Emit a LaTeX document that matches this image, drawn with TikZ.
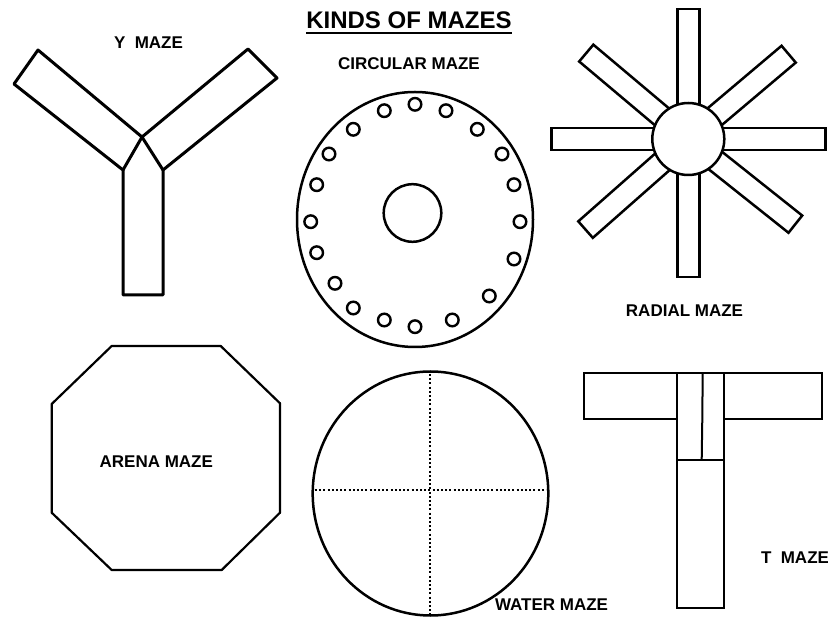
\documentclass[tikz,border=0pt]{standalone}
\usepackage{fontspec}
\setmainfont{Liberation Sans}
\usetikzlibrary{calc}
\tikzset{
  lbl/.style={inner sep=0pt, anchor=base, font=\fontsize{17}{17}\selectfont\bfseries},
  ttl/.style={inner sep=0pt, anchor=base, font=\fontsize{24}{24}\selectfont\bfseries},
  ymaze/.style={line width=3pt, line join=round, line cap=round},
  thick2/.style={line width=2.5pt},
  thin15/.style={line width=2pt},
  arm/.style={line width=2.5pt},
  hole/.style={line width=2.4pt},
  dots/.style={line width=2.6pt, dash pattern=on 2pt off 2.2pt}
}
\begin{document}
\begin{tikzpicture}[x=1pt,y=-1pt]
\useasboundingbox (0,0) rectangle (828,617);
\fill[white] (0,0) rectangle (828,617);

% Title
\node[ttl] (title) at (409,29) {KINDS OF MAZES};
\draw[line width=1.8pt] ([yshift=-4pt]title.base west) -- ([yshift=-4pt]title.base east);

% Y maze
\draw[ymaze] (142,137) -- (38,50) -- (14,84) -- (123,170) -- (123,295) -- (163,295) -- (163,170) -- (277,78) -- (248,49) -- cycle;
\draw[ymaze] (123,170) -- (142,137) -- (163,170);
\node[lbl] (ylab) at (148.5,49) {Y~~MAZE};

% Circular maze
\node[lbl] (clab) at (409,70) {CIRCULAR MAZE};
\draw[thick2] (415,219.5) ellipse [x radius=118, y radius=127.5];
\draw[thick2] (412.5,213) circle [radius=28.8];
\foreach \px/\py in {415/104.3, 446/110.7, 477.3/129.3, 502/154, 514/184.7, 520/221.7, 514/259, 489.3/296, 452.3/320, 415/326.7, 384.3/320, 353.3/308, 335/283.3, 316.7/252.7, 310.7/221.7, 316.7/184.7, 329/154, 353.3/129.3, 384.3/110.7}
  \draw[hole] (\px,\py) circle [radius=6.3];

% Radial maze
\coordinate (rc) at (688.3,139);
\foreach \ang/\len in {0/137, 40.2/131.4, 90/130, 139.9/133.4, 180/137, 221.4/137, 270/138, 321.5/136.8}
  \draw[arm, shift={(rc)}, rotate=\ang] (20,-11) rectangle (\len,11);
\filldraw[arm, fill=white] (rc) circle [radius=36];
\node[lbl] (rlab) at (684.5,317) {RADIAL MAZE};

% Arena maze
\draw[line width=2.2pt, line join=round] (111.7,346) -- (220.7,346) -- (280,403.3) -- (280,512.7) -- (221.7,570) -- (111.7,570) -- (51.7,512.7) -- (51.7,404) -- cycle;
\node[lbl] (alab) at (156.3,467.5) {ARENA MAZE};

% Water maze
\draw[thick2] (430.5,493.5) ellipse [x radius=117.8, y radius=122];
\draw[dots] (430,374) -- (430,614);
\draw[dots] (315,490) -- (546,490);
\node[lbl] (wlab) at (551.5,610.5) {WATER MAZE};

% T maze
\draw[thin15] (677,419.3) -- (584,419.3) -- (584,372.7) -- (821.7,372.7) -- (821.7,419.3) -- (724,419.3);
\draw[thin15] (677.3,372.7) -- (677.3,608.3) -- (724,608.3) -- (724,372.7);
\draw[thin15] (677.3,460) -- (725,460);
\draw[thin15] (702.7,372.7) -- (702.3,419) -- (701.7,460);
\node[lbl] (tlab) at (795,563) {T~~MAZE};
\end{tikzpicture}
\end{document}
